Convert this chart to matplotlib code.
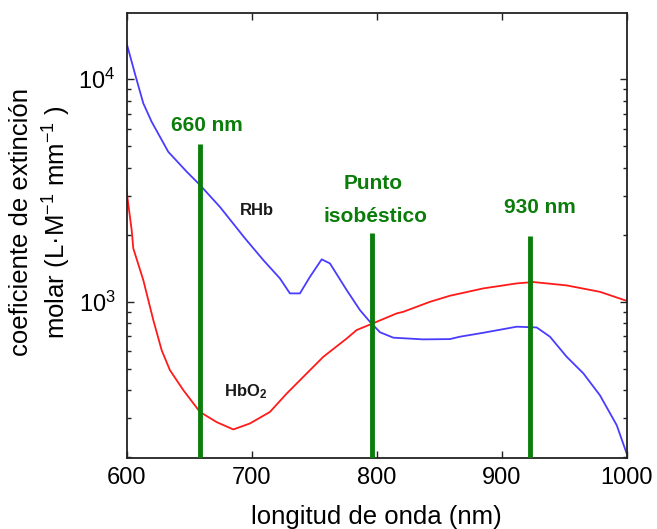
import numpy as np
import matplotlib
matplotlib.use("Agg")
import matplotlib.pyplot as plt
from matplotlib.ticker import NullFormatter

plt.rcParams['font.family'] = ['Liberation Sans', 'DejaVu Sans']
plt.rcParams['mathtext.fontset'] = 'custom'
plt.rcParams['mathtext.rm'] = 'Liberation Sans'
plt.rcParams['mathtext.it'] = 'Liberation Sans:italic'
plt.rcParams['mathtext.bf'] = 'Liberation Sans:bold'

# --------------------- DATA
rhb_nm = [600, 606.6, 613.3, 620, 633.3, 648, 658.6, 674.6, 694.6, 709.3, 722.6,
          730.6, 738.6, 746.6, 756, 762.6, 776, 786.6, 794.6, 802.6, 813.3, 837,
          858.6, 866.6, 885.3, 912, 928, 938.6, 952, 965.3, 978.6, 992, 1000]
rhb_val = [14500, 10600, 7800, 6440, 4720, 3845, 3350, 2670, 1930, 1540, 1274,
           1091, 1091, 1295, 1552, 1488, 1129, 918, 813, 730, 690, 678,
           680, 697, 726, 773, 767, 697, 566, 477, 380, 279, 208]

hbo2_nm = [600, 604, 605.3, 613.3, 621.3, 628, 634.6, 645.3, 658.6, 672, 685.3,
           698.6, 714.6, 728, 741.3, 757.3, 776, 784, 794.6, 816, 821.3, 842.6,
           858.6, 870, 885.3, 912, 925.3, 952, 978.6, 1000]
hbo2_val = [3126, 2100, 1738, 1252, 828, 606, 493, 401, 320, 288, 267,
            284, 320, 387, 460, 566, 684, 747, 790, 887, 902, 1000,
            1065, 1100, 1149, 1210, 1227, 1185, 1109, 1010]

marker_nm = [659, 796.5, 922.6]
marker_top = [5100, 2043, 1974]

ylim = (198, 19800)

# --------------------- PLOT
fig = plt.figure(figsize=(6.57, 5.29), dpi=100)
ax = fig.add_axes([0.1928, 0.1336, 0.7611, 0.8413])

ax.semilogy(rhb_nm, rhb_val, color='#4a3cff', lw=1.3)
ax.semilogy(hbo2_nm, hbo2_val, color='#ff1a1a', lw=1.3)

green = '#0a7d0a'
ax.vlines(marker_nm, ylim[0], marker_top, colors=green, lw=3.5, zorder=3)

ax.text(664, 6230, '660 nm', color=green, fontsize=15, fontweight='bold',
        ha='center', va='center')
ax.text(797.3, 3405, 'Punto', color=green, fontsize=15, fontweight='bold',
        ha='center', va='center')
ax.text(799.4, 2410, 'isobéstico', color=green, fontsize=15, fontweight='bold',
        ha='center', va='center')
ax.text(930.6, 2666, '930 nm', color=green, fontsize=15, fontweight='bold',
        ha='center', va='center')
ax.text(704, 2583, 'RHb', color='#1a1a1a', fontsize=12, fontweight='bold',
        ha='center', va='center')
ax.text(695, 395, r'HbO$_\mathbf{2}$', color='#1a1a1a', fontsize=12,
        fontweight='bold', ha='center', va='center')

ax.set_xlim(600, 1000)
ax.set_ylim(*ylim)
ax.set_xticks([600, 700, 800, 900, 1000])
ax.yaxis.set_minor_formatter(NullFormatter())
ax.tick_params(which='both', direction='in', top=True, right=True,
               labelsize=17, width=1.0, color='#222222')
ax.tick_params(which='major', length=5)
ax.tick_params(which='minor', length=3)
ax.tick_params(axis='x', pad=6)
ax.tick_params(axis='y', pad=8)
for s in ax.spines.values():
    s.set_linewidth(1.3)
    s.set_color('#222222')

ax.set_xlabel('longitud de onda (nm)', fontsize=18.5, labelpad=12)
fig.text(41 / 657, 1 - 222 / 529,
         'coeficiente de extinción\nmolar (L·M$^{-1}$ mm$^{-1}$ )',
         rotation=90, ha='center', va='center', fontsize=18.5,
         multialignment='center', linespacing=1.35)

fig.savefig('out.png', dpi=100)
